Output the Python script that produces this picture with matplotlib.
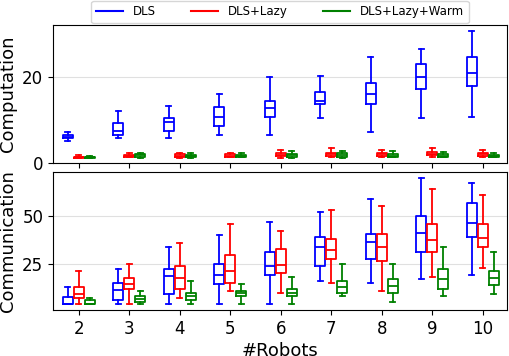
"""
computation / communication boxplots per number of robots
"""

import matplotlib
matplotlib.use('Agg')
from matplotlib import pyplot as plt

robots = [2, 3, 4, 5, 6, 7, 8, 9, 10]
methods = ['DLS', 'DLS+Lazy', 'DLS+Lazy+Warm']
colors = ['blue', 'red', 'green']

# computation: (whisker low, q1, median, q3, whisker high) per robot count
comp_dls = [(5.1, 5.7, 6.0, 6.3, 7.0), (5.8, 6.3, 7.4, 9.3, 12.0),
            (5.6, 7.4, 9.4, 10.4, 13.2), (6.3, 8.5, 10.5, 13.0, 16.0),
            (6.4, 10.7, 12.6, 14.4, 19.8), (10.3, 13.5, 14.4, 16.3, 20.1),
            (7.2, 13.5, 16.0, 18.4, 24.6), (10.3, 17.2, 20.0, 22.8, 26.5),
            (10.5, 17.9, 20.8, 24.6, 30.5)]
comp_lazy = [(1.0, 1.1, 1.25, 1.4, 1.7), (1.2, 1.3, 1.5, 1.8, 2.3),
             (1.1, 1.3, 1.6, 1.9, 2.2), (1.2, 1.4, 1.6, 1.9, 2.2),
             (1.0, 1.5, 1.8, 2.2, 2.9), (1.2, 1.5, 2.0, 2.3, 3.3),
             (1.3, 1.5, 2.0, 2.3, 3.0), (1.3, 1.7, 2.1, 2.5, 3.3),
             (1.3, 1.5, 1.9, 2.2, 3.0)]
comp_warm = [(1.0, 1.1, 1.25, 1.4, 1.6), (1.1, 1.2, 1.7, 2.0, 2.3),
             (1.1, 1.3, 1.5, 1.8, 2.2), (1.2, 1.3, 1.5, 1.8, 2.2),
             (1.1, 1.3, 1.7, 2.1, 2.7), (1.1, 1.3, 1.7, 2.2, 2.6),
             (1.2, 1.3, 1.6, 1.9, 2.6), (1.2, 1.3, 1.6, 2.0, 2.5),
             (1.2, 1.2, 1.5, 1.8, 2.3)]

# communication
comm_dls = [(4.2, 4.2, 4.4, 8.0, 13.2), (4.2, 6.25, 11.5, 15.1, 22.4),
            (4.2, 9.4, 18.75, 22.4, 34.2), (4.2, 14.6, 19.3, 25.0, 40.1),
            (4.2, 19.3, 24.0, 31.25, 46.9), (16.1, 24.0, 34.0, 39.1, 52.1),
            (15.1, 27.6, 36.5, 40.6, 58.8), (17.2, 31.25, 41.1, 50.0, 69.8),
            (19.3, 39.1, 46.4, 56.8, 67.2)]
comm_lazy = [(4.2, 7.3, 9.7, 13.0, 21.5), (4.2, 12.0, 14.6, 17.7, 25.0),
             (7.3, 12.0, 17.7, 24.0, 36.0), (11.0, 15.1, 21.4, 30.0, 45.8),
             (9.9, 20.3, 24.5, 32.8, 42.2), (15.1, 27.6, 32.3, 38.0, 53.1),
             (11.0, 26.6, 34.0, 40.6, 55.2), (18.2, 31.25, 37.5, 45.8, 64.1),
             (22.9, 33.9, 38.5, 45.8, 61.0)]
comm_warm = [(4.2, 4.2, 4.3, 6.25, 7.3), (4.2, 5.2, 6.8, 8.3, 11.1),
             (4.2, 6.25, 8.3, 9.9, 16.0), (4.2, 8.3, 9.9, 11.0, 14.9),
             (4.2, 8.3, 10.2, 12.0, 18.2), (8.3, 9.9, 13.0, 16.1, 25.0),
             (5.2, 10.2, 13.5, 17.2, 25.0), (8.3, 12.0, 17.2, 22.4, 34.0),
             (9.4, 14.1, 17.7, 21.4, 31.25)]


def make_stats(rows):
	stats = []
	for lo, q1, med, q3, hi in rows:
		stats.append({'whislo': lo, 'q1': q1, 'med': med, 'q3': q3,
		              'whishi': hi, 'fliers': []})
	return stats


def draw_boxes(ax, series):
	offsets = [-0.22, 0.0, 0.22]
	for rows, color, off in zip(series, colors, offsets):
		props = dict(color=color, linewidth=1.3)
		ax.bxp(make_stats(rows), positions=[r + off for r in robots],
		       widths=0.2, showfliers=False, manage_ticks=False,
		       boxprops=props, whiskerprops=props, capprops=props,
		       medianprops=props)
	ax.grid(axis='y', color='#e0e0e0', linewidth=0.8)
	ax.set_axisbelow(True)
	ax.set_xlim(1.49, 10.48)
	ax.set_xticks(robots)
	ax.tick_params(labelsize=12)


fig = plt.figure(figsize=(5.1, 3.56), dpi=100)
ax1 = fig.add_axes([0.104, 0.541, 0.89, 0.389])
ax2 = fig.add_axes([0.104, 0.128, 0.89, 0.389])

draw_boxes(ax1, [comp_dls, comp_lazy, comp_warm])
ax1.set_ylim(-0.2, 32)
ax1.set_yticks([0, 20])
ax1.set_xticklabels([])
ax1.set_ylabel('Computation', fontsize=13)

draw_boxes(ax2, [comm_dls, comm_lazy, comm_warm])
ax2.set_ylim(0.9, 73.1)
ax2.set_yticks([25, 50])
ax2.set_xticklabels([str(r) for r in robots])
ax2.set_ylabel('Communication', fontsize=13)
# label sits partly below the canvas edge, as in the source figure
ax2.set_xlabel('#Robots', fontsize=13, labelpad=3)

handles = [plt.Line2D([], [], color=c, linewidth=1.5) for c in colors]
ax1.legend(handles, methods, loc='lower center', bbox_to_anchor=(0.5, 1.0),
           ncol=3, fontsize=8.5, columnspacing=3.0, borderaxespad=0.15,
           handlelength=2.3)

fig.savefig('out.png', dpi=100)
